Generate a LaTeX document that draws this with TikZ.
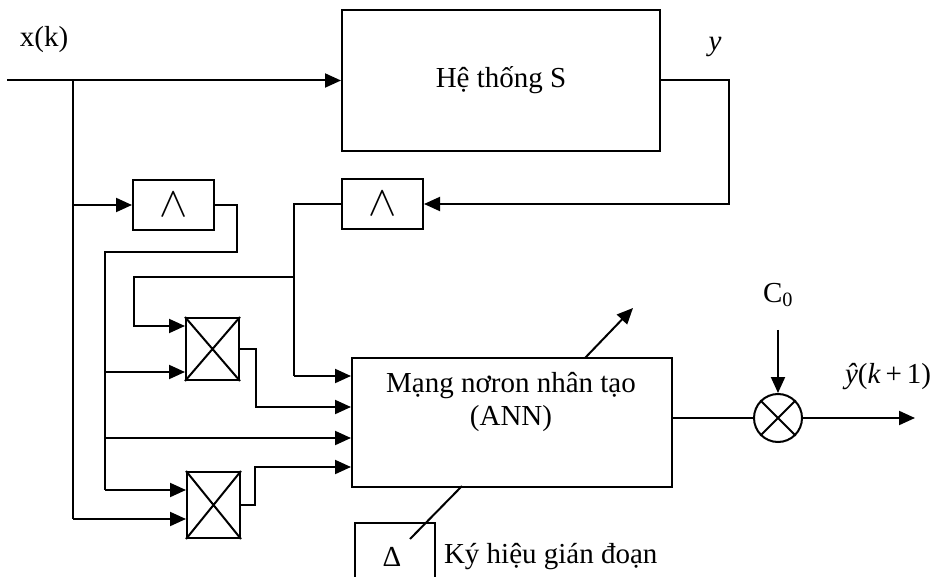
\documentclass[tikz,border=0pt]{standalone}
\usepackage{fontspec}
\setmainfont{Liberation Serif}
\usetikzlibrary{arrows.meta}
\begin{document}
\begin{tikzpicture}[x=1pt,y=-1pt,
  line width=2pt,
  arr/.style={-{Triangle[length=16pt,width=14pt]}},
  box/.style={draw,rectangle,inner sep=0pt},
  txt/.style={inner sep=0pt,font=\fontsize{29}{33}\selectfont}]
\useasboundingbox (0,0) rectangle (940,577);
% blocks
\node[box,minimum width=318pt,minimum height=141pt,txt] (S) at (501,80.5) {Hệ thống S};
\node[box,minimum width=81pt,minimum height=50pt,txt] (L1) at (173.5,205) {\scalebox{1.7}{$\wedge$}};
\node[box,minimum width=81pt,minimum height=50pt,txt] (L2) at (382.5,204) {\scalebox{1.7}{$\wedge$}};
\node[box,minimum width=53pt,minimum height=62pt] (M1) at (212.5,349) {};
\node[box,minimum width=53pt,minimum height=66pt] (M2) at (213.5,505) {};
\draw (M1.north west) -- (M1.south east) (M1.south west) -- (M1.north east);
\draw (M2.north west) -- (M2.south east) (M2.south west) -- (M2.north east);
\node[box,minimum width=320pt,minimum height=129pt] (ANN) at (512,422.5) {};
\node[txt,align=center] (ANNt) at (511,402) {Mạng nơron nhân tạo\\(ANN)};
\node[draw,circle,minimum size=48pt,inner sep=0pt] (C) at (778,418) {};
\draw (C.north west) -- (C.south east) (C.south west) -- (C.north east);
% labels
\node[txt] (xk) at (44,40) {x(k)};
\node[txt] (ylab) at (715,47) {\textit{y}};
\node[txt] (c0) at (778,295) {C\textsubscript{0}};
\node[txt] (yhat) at (888,377) {\textit{ŷ}(\textit{k}\,+\,1)};
% coordinates
\coordinate (in) at (7,80.5);
\coordinate (jx) at (73,80.5);
\coordinate (jx1) at (73,205);
\coordinate (jx2) at (73,519);
\coordinate (a1) at (237,205);
\coordinate (a2) at (237,252);
\coordinate (jv) at (105,252);
\coordinate (jv1) at (105,372);
\coordinate (jv2) at (105,438);
\coordinate (jv3) at (105,490);
\coordinate (yc) at (729,80.5);
\coordinate (yd) at (729,204);
\coordinate (jL) at (294,204);
\coordinate (jL1) at (294,277);
\coordinate (jL2) at (294,376);
\coordinate (b1) at (134,277);
\coordinate (b2) at (134,326);
\coordinate (m1a) at (256,349);
\coordinate (m1b) at (256,407);
\coordinate (m2a) at (255,505);
\coordinate (m2b) at (255,467);
\coordinate (adj0) at (585,358);
\coordinate (adj1) at (633,308);
\coordinate (c0in) at (778,330);
\coordinate (out) at (915,418);
% connectors
\draw[arr] (in) -- (S.west);
\draw (jx) -- (jx2);
\draw[arr] (jx1) -- (L1.west);
\draw[arr] (jx2) -- (jx2 -| M2.west);
\draw (L1.east) -- (a1) -- (a2) -- (jv) -- (jv3);
\draw[arr] (jv1) -- (jv1 -| M1.west);
\draw[arr] (jv2) -- (jv2 -| ANN.west);
\draw[arr] (jv3) -- (jv3 -| M2.west);
\draw[arr] (S.east) -- (yc) -- (yd) -- (L2.east);
\draw (L2.west) -- (jL) -- (jL2);
\draw[arr] (jL2) -- (jL2 -| ANN.west);
\draw[arr] (jL1) -- (b1) -- (b2) -- (b2 -| M1.west);
\draw[arr] (M1.east) -- (m1a) -- (m1b) -- (m1b -| ANN.west);
\draw[arr] (M2.east) -- (m2a) -- (m2b) -- (m2b -| ANN.west);
\draw[arr] (adj0) -- (adj1);
\draw (ANN.east |- C) -- (C);
\draw[arr] (C.east) -- (out);
\draw[arr] (c0in) -- (C.north);
% discrete-time symbol
\coordinate (d1) at (355,577);
\coordinate (d2) at (435,523);
\coordinate (d3) at (435,577);
\draw (d1) |- (d2) -- (d3);
\node[txt] (dl) at (392,557) {Δ};
\coordinate (s0) at (462,486);
\coordinate (s1) at (410,539);
\draw (s0) -- (s1);
\node[txt,anchor=west] (kyhieu) at (443,557) {Ký hiệu gián đoạn};
\end{tikzpicture}
\end{document}
